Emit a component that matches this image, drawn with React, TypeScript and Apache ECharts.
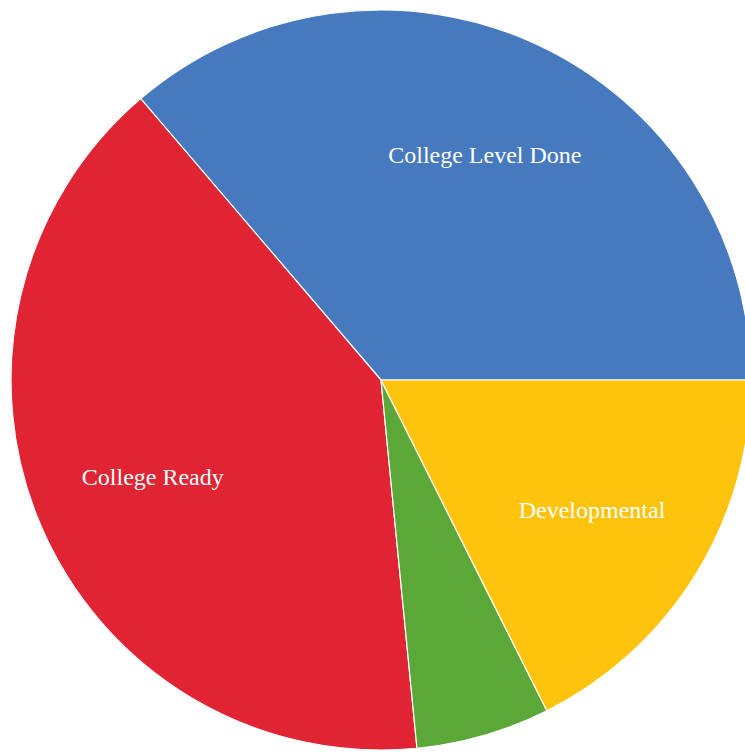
import React, { useEffect, useRef } from "react";
import * as echarts from "echarts";

const categories = ["College Level Done", "College Ready", "Other", "Developmental"];
const values = [36.25, 40.3, 5.85, 17.6];
const colors = ["#4679BD", "#E02434", "#5BA737", "#FEC40D"];
const showLabel = [true, true, false, true];

export default function App() {
  const ref = useRef<HTMLDivElement>(null);
  useEffect(() => {
    if (!ref.current) return;
    const chart = echarts.init(ref.current, undefined, { renderer: "svg" });
    const baseData = categories.map((name, i) => ({
      name,
      value: values[i],
      itemStyle: { color: colors[i] },
    }));
    const labelData = categories.map((name, i) => ({
      name,
      value: values[i],
      label: { show: showLabel[i] },
    }));
    chart.setOption({
      animation: false,
      series: [
        {
          type: "pie",
          center: [381, 380],
          radius: [0, 370],
          startAngle: 0,
          clockwise: false,
          silent: true,
          label: { show: false },
          labelLine: { show: false },
          itemStyle: { borderColor: "#ffffff", borderWidth: 1.2 },
          data: baseData,
        },
        {
          type: "pie",
          center: [381, 380],
          radius: [120, 370],
          startAngle: 0,
          clockwise: false,
          silent: true,
          itemStyle: { color: "rgba(0,0,0,0)", borderWidth: 0 },
          labelLine: { show: false },
          label: {
            show: true,
            position: "inside",
            color: "#ffffff",
            fontFamily: "Liberation Serif, Times New Roman, serif",
            fontSize: 24,
            formatter: "{b}",
          },
          emphasis: { disabled: true },
          data: labelData,
        },
      ],
    });
    return () => chart.dispose();
  }, []);
  return (
    <div
      ref={ref}
      style={{ position: "absolute", left: 0, top: 0, width: 745, height: 752, background: "#ffffff" }}
    />
  );
}
